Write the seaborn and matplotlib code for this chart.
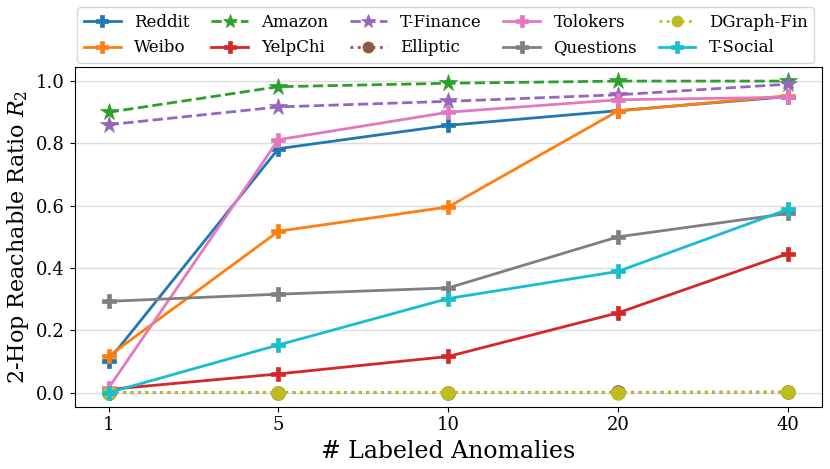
import numpy as np
import pandas as pd
import seaborn as sns
import matplotlib.pyplot as plt

# number of labeled anomalies (categorical, evenly spaced)
shots = ["1", "5", "10", "20", "40"]

reddit = [0.103, 0.783, 0.858, 0.905, 0.950]
weibo = [0.117, 0.518, 0.596, 0.904, 0.953]
amazon = [0.900, 0.982, 0.993, 1.000, 1.000]
yelpchi = [0.010, 0.060, 0.116, 0.256, 0.446]
tfinance = [0.860, 0.917, 0.935, 0.956, 0.990]
elliptic = [0.000, 0.000, 0.000, 0.001, 0.002]
tolokers = [0.015, 0.812, 0.900, 0.940, 0.948]
questions = [0.293, 0.316, 0.336, 0.500, 0.575]
dgraphfin = [0.000, 0.000, 0.000, 0.000, 0.001]
tsocial = [0.000, 0.153, 0.302, 0.389, 0.588]

series = {
    "Reddit": reddit, "Weibo": weibo,
    "Amazon": amazon, "YelpChi": yelpchi,
    "T-Finance": tfinance, "Elliptic": elliptic,
    "Tolokers": tolokers, "Questions": questions,
    "DGraph-Fin": dgraphfin, "T-Social": tsocial,
}

colors = sns.color_palette("tab10")
styles = {
    "Reddit": ("P", "-", colors[0]),
    "Weibo": ("P", "-", colors[1]),
    "Amazon": ("*", "--", colors[2]),
    "YelpChi": ("P", "-", colors[3]),
    "T-Finance": ("*", "--", colors[4]),
    "Elliptic": ("o", ":", colors[5]),
    "Tolokers": ("P", "-", colors[6]),
    "Questions": ("P", "-", colors[7]),
    "DGraph-Fin": ("o", ":", colors[8]),
    "T-Social": ("P", "-", colors[9]),
}

plt.rcParams['font.family'] = ['DejaVu Serif']
plt.rcParams['mathtext.fontset'] = 'dejavuserif'

fig, ax = plt.subplots(figsize=(8.3, 4.69), dpi=100)
pos = np.arange(len(shots))

for name, vals in series.items():
    m, ls, c = styles[name]
    ms = 13 if m == "*" else 10
    sns.lineplot(x=pos, y=vals, ax=ax, marker=m, linestyle=ls, color=c,
                 markersize=ms, linewidth=2, markeredgewidth=0.5,
                 markeredgecolor=c, label=name)

ax.set_xticks(pos)
ax.set_xticklabels(shots)
ax.set_xlim(-0.2, 4.2)
ax.set_ylim(-0.045, 1.045)
ax.set_yticks([0.0, 0.2, 0.4, 0.6, 0.8, 1.0])
ax.tick_params(labelsize=13)
ax.yaxis.grid(True, color="#dddddd", linewidth=1)
ax.set_axisbelow(True)
ax.set_xlabel("# Labeled Anomalies", fontsize=17)
ax.set_ylabel("2-Hop Reachable Ratio $R_2$", fontsize=16)

ax.legend(ncol=5, loc="upper center", bbox_to_anchor=(0.537, 0.995),
          bbox_transform=fig.transFigure, fontsize=12, frameon=True,
          handlelength=2.2, columnspacing=1.3, handletextpad=0.8,
          borderaxespad=0.3, markerscale=0.8)

fig.subplots_adjust(left=0.09, right=0.99, bottom=0.133, top=0.857)
fig.savefig("out.png", dpi=100)
